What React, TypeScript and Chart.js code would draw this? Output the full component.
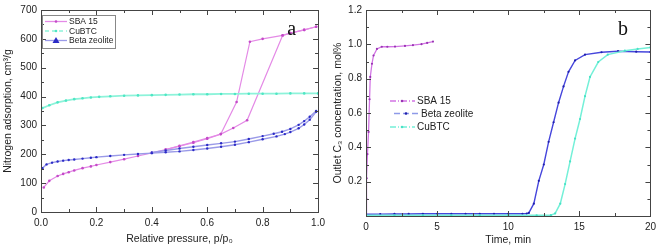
import React, { useEffect, useRef } from 'react';
import { Chart, registerables } from 'chart.js';
Chart.register(...registerables);

// ---------- Panel a: N2 adsorption isotherms ----------
const sbaAdsP = [0.01, 0.03, 0.06, 0.08, 0.10, 0.12, 0.15, 0.18, 0.20, 0.25, 0.30, 0.35, 0.40, 0.45, 0.50, 0.55, 0.60, 0.649, 0.694, 0.744, 0.872, 0.90, 0.95, 0.993];
const sbaAdsV = [85, 108, 125, 132, 138, 144, 152, 158, 163, 173, 183, 194, 205, 216, 228, 240, 254, 270, 291, 318, 612, 620, 631, 642];
const sbaDesP = [0.993, 0.95, 0.90, 0.872, 0.80, 0.754, 0.706, 0.649, 0.60, 0.55, 0.50, 0.45];
const sbaDesV = [642, 631, 620, 612, 600, 590, 381, 270, 256, 242, 229, 216];

const cuP = [0.005, 0.03, 0.06, 0.09, 0.12, 0.15, 0.18, 0.21, 0.25, 0.30, 0.35, 0.40, 0.45, 0.50, 0.55, 0.60, 0.65, 0.70, 0.75, 0.80, 0.85, 0.90, 0.95, 1.0];
const cuV = [360, 370, 380, 386, 391, 394, 397, 399, 401, 403, 404, 405, 406, 407, 408, 408, 409, 409, 410, 410, 410, 411, 411, 411];

const betaAdsP = [0.005, 0.02, 0.04, 0.06, 0.08, 0.10, 0.12, 0.15, 0.18, 0.20, 0.25, 0.30, 0.35, 0.40, 0.45, 0.50, 0.55, 0.60, 0.65, 0.70, 0.75, 0.80, 0.85, 0.88, 0.90, 0.93, 0.95, 0.97, 0.993];
const betaAdsV = [152, 165, 171, 175, 178, 180, 182, 185, 188, 190, 194, 198, 201, 204, 207, 210, 215, 220, 226, 233, 242, 252, 262, 270, 277, 290, 303, 320, 347];
const betaDesP = [0.993, 0.97, 0.95, 0.93, 0.90, 0.87, 0.84, 0.80, 0.75, 0.70, 0.65, 0.60, 0.55, 0.50, 0.45, 0.40];
const betaDesV = [350, 330, 315, 302, 288, 278, 271, 263, 253, 244, 238, 232, 226, 220, 213, 206];

// ---------- Panel b: breakthrough curves ----------
const sbaT = [0, 0.02, 0.05, 0.10, 0.18, 0.25, 0.30, 0.42, 0.53, 0.77, 1.11, 1.5, 2.04, 2.74, 3.3, 3.9, 4.3, 4.71];
const sbaC = [0, 0.10, 0.22, 0.36, 0.49, 0.68, 0.81, 0.887, 0.935, 0.973, 0.986, 0.986, 0.987, 0.991, 0.995, 1.001, 1.008, 1.016];

const betaT = [0, 1, 2, 3, 4, 5, 6, 7, 8, 9, 10, 11, 11.3, 11.45, 11.8, 12.15, 12.5, 12.84, 13.19, 13.54, 13.89, 14.24, 14.7, 15.4, 16.56, 17.72, 19, 20];
const betaC = [0.010, 0.011, 0.012, 0.012, 0.013, 0.013, 0.013, 0.013, 0.013, 0.013, 0.013, 0.013, 0.014, 0.018, 0.072, 0.205, 0.30, 0.432, 0.546, 0.66, 0.755, 0.84, 0.906, 0.94, 0.954, 0.96, 0.957, 0.955];

const cuT = [0, 2, 4, 6, 8, 10, 12, 13.0, 13.3, 13.66, 14.0, 14.35, 14.7, 15.05, 15.4, 15.75, 16.33, 17.0, 18.2, 19.1, 20];
const cuC = [0.004, 0.004, 0.004, 0.004, 0.004, 0.004, 0.004, 0.005, 0.015, 0.072, 0.186, 0.318, 0.451, 0.565, 0.698, 0.81, 0.897, 0.94, 0.963, 0.973, 0.982];

const xTicksA = [0, 0.2, 0.4, 0.6, 0.8, 1.0];
const yTicksA = [0, 100, 200, 300, 400, 500, 600, 700];
const xTicksB = [0, 5, 10, 15, 20];
const yTicksB = [0, 0.2, 0.4, 0.6, 0.8, 1.0, 1.2];

// ---------- styles ----------
const SBA_LINE = '#e48ae6';
const SBA_PT = '#c44ac8';
const CU_LINE = '#8df3da';
const CU_PT = '#4fe6c4';
const BETA_LINE = '#9a9ae8';
const BETA_PT = '#2b2bc6';
const SBA_LINE_B = '#d274e4';
const SBA_PT_B = '#9a34b4';
const BETA_LINE_B = '#4646dc';
const BETA_PT_B = '#1f1fae';
const CU_LINE_B = '#74f0d8';
const CU_PT_B = '#48e2c6';

const FONT = '"Liberation Sans", Arial, sans-serif';
const TXT = '#222';

const zip = (xs: number[], ys: number[]) => xs.map((x, i) => ({ x, y: ys[i] }));

function frame(xt: number[], yt: number[]) {
  return {
    id: 'frame',
    afterDraw(chart: any) {
      const { ctx, chartArea } = chart;
      const { left, right, top, bottom } = chartArea;
      const sx = chart.scales.x;
      const sy = chart.scales.y;
      ctx.save();
      ctx.strokeStyle = '#444';
      ctx.lineWidth = 1;
      ctx.strokeRect(Math.round(left) + 0.5, Math.round(top) + 0.5, Math.round(right - left), Math.round(bottom - top));
      const tick = (x1: number, y1: number, x2: number, y2: number) => {
        ctx.beginPath();
        ctx.moveTo(x1, y1);
        ctx.lineTo(x2, y2);
        ctx.stroke();
      };
      const drawX = (v: number, len: number) => {
        const px = Math.round(sx.getPixelForValue(v)) + 0.5;
        tick(px, bottom, px, bottom - len);
        tick(px, top, px, top + len);
      };
      const drawY = (v: number, len: number) => {
        const py = Math.round(sy.getPixelForValue(v)) + 0.5;
        tick(left, py, left + len, py);
        tick(right, py, right - len, py);
      };
      xt.forEach((v, i) => {
        drawX(v, 5);
        if (i < xt.length - 1) drawX((v + xt[i + 1]) / 2, 3);
      });
      yt.forEach((v, i) => {
        drawY(v, 5);
        if (i < yt.length - 1) drawY((v + yt[i + 1]) / 2, 3);
      });
      ctx.restore();
    },
  };
}

type LegendItem = {
  label: string;
  x1: number;
  x2: number;
  tx: number;
  y: number;
  line: string;
  pt: string;
  dash: number[];
  marker: 'dot' | 'tri';
  dots: number[];
};

function legend(items: LegendItem[], fontSize: number, box?: [number, number, number, number]) {
  return {
    id: 'customLegend',
    afterDraw(chart: any) {
      const ctx = chart.ctx;
      ctx.save();
      if (box) {
        ctx.strokeStyle = '#888';
        ctx.lineWidth = 1;
        ctx.strokeRect(box[0] + 0.5, box[1] + 0.5, box[2], box[3]);
      }
      items.forEach((it) => {
        ctx.strokeStyle = it.line;
        ctx.lineWidth = 1.3;
        ctx.setLineDash(it.dash);
        ctx.beginPath();
        ctx.moveTo(it.x1, it.y + 0.5);
        ctx.lineTo(it.x2, it.y + 0.5);
        ctx.stroke();
        ctx.setLineDash([]);
        ctx.fillStyle = it.pt;
        it.dots.forEach((dx) => {
          if (it.marker === 'tri') {
            ctx.beginPath();
            ctx.moveTo(dx, it.y - 3);
            ctx.lineTo(dx + 3.5, it.y + 3);
            ctx.lineTo(dx - 3.5, it.y + 3);
            ctx.closePath();
            ctx.fill();
          } else {
            ctx.beginPath();
            ctx.arc(dx, it.y + 0.5, 1.3, 0, Math.PI * 2);
            ctx.fill();
          }
        });
        ctx.fillStyle = TXT;
        ctx.font = `${fontSize}px ${FONT}`;
        ctx.textAlign = 'left';
        ctx.textBaseline = 'middle';
        ctx.fillText(it.label, it.tx, it.y + 1);
      });
      ctx.restore();
    },
  };
}

function letter(text: string, xv: number, yv: number) {
  return {
    id: 'letter',
    afterDraw(chart: any) {
      const ctx = chart.ctx;
      ctx.save();
      ctx.fillStyle = '#111';
      ctx.font = '20px "Liberation Serif", "DejaVu Serif", serif';
      ctx.textAlign = 'center';
      ctx.textBaseline = 'middle';
      ctx.fillText(text, chart.scales.x.getPixelForValue(xv), chart.scales.y.getPixelForValue(yv));
      ctx.restore();
    },
  };
}

function ds(data: any[], line: string, pt: string, r: number, w: number, extra: any = {}) {
  return {
    data,
    showLine: true,
    borderColor: line,
    borderWidth: w,
    backgroundColor: pt,
    pointBackgroundColor: pt,
    pointBorderWidth: 0,
    pointRadius: r,
    tension: 0,
    ...extra,
  };
}

function axis(min: number, max: number, step: number, fmt: (v: number) => string, title: string, isX: boolean, size: number, pad: number, titlePad: number) {
  return {
    type: 'linear',
    min,
    max,
    grid: { display: false, drawTicks: false },
    border: { display: false },
    ticks: {
      stepSize: step,
      autoSkip: false,
      maxRotation: 0,
      padding: pad,
      color: TXT,
      font: { size: 10, family: FONT },
      callback: (v: any) => fmt(Number(v)),
    },
    title: {
      display: true,
      text: title,
      color: TXT,
      font: { size: 10.5, family: FONT },
      padding: isX ? { top: 0, bottom: titlePad } : { top: titlePad, bottom: 0 },
    },
    afterFit(s: any) {
      if (isX) s.height = size;
      else s.width = size;
    },
  };
}

export default function App() {
  const refA = useRef<HTMLCanvasElement>(null);
  const refB = useRef<HTMLCanvasElement>(null);

  useEffect(() => {
    Chart.defaults.font.family = FONT;
    const chartA = new Chart(refA.current as HTMLCanvasElement, {
      type: 'scatter',
      data: {
        datasets: [
          ds(zip(cuP, cuV), CU_LINE, CU_PT, 1.3, 1.8),
          ds(zip(betaAdsP, betaAdsV), BETA_LINE, BETA_PT, 1.2, 1.4),
          ds(zip(betaDesP, betaDesV), BETA_LINE, BETA_PT, 1.2, 1.4),
          ds(zip(sbaAdsP, sbaAdsV), SBA_LINE, SBA_PT, 1.3, 1.2),
          ds(zip(sbaDesP, sbaDesV), SBA_LINE, SBA_PT, 1.3, 1.2),
        ] as any,
      },
      options: {
        animation: false,
        responsive: false,
        events: [],
        layout: { padding: { left: 0, right: 8, top: 5, bottom: 0 } },
        plugins: { legend: { display: false }, tooltip: { enabled: false } },
        scales: {
          x: axis(0, 1, 0.2, (v) => v.toFixed(1), 'Relative pressure, p/p₀', true, 36, 5, 3),
          y: axis(0, 700, 100, (v) => String(Math.round(v)), 'Nitrogen adsorption, cm³/g', false, 41, 4, 2),
        } as any,
      },
      plugins: [
        frame(xTicksA, yTicksA),
        legend(
          [
            { label: 'SBA 15', x1: 45, x2: 67, tx: 69, y: 21, line: SBA_LINE, pt: SBA_PT, dash: [], marker: 'dot', dots: [56] },
            { label: 'CuBTC', x1: 45, x2: 67, tx: 69, y: 30.5, line: CU_LINE, pt: CU_PT, dash: [4, 3], marker: 'dot', dots: [56] },
            { label: 'Beta zeolite', x1: 45, x2: 67, tx: 69, y: 40, line: BETA_LINE, pt: BETA_PT, dash: [], marker: 'tri', dots: [56] },
          ],
          8.5,
          [42, 15, 73, 33]
        ),
        letter('a', 0.905, 631),
      ] as any,
    });

    const chartB = new Chart(refB.current as HTMLCanvasElement, {
      type: 'scatter',
      data: {
        datasets: [
          ds(zip(cuT, cuC), CU_LINE_B, CU_PT_B, 1.1, 1.5),
          ds(zip(betaT, betaC), BETA_LINE_B, BETA_PT_B, 1.1, 1.4),
          ds(zip(sbaT, sbaC), SBA_LINE_B, SBA_PT_B, 1.1, 1.3),
        ] as any,
      },
      options: {
        animation: false,
        responsive: false,
        events: [],
        layout: { padding: { left: 0, right: 8, top: 5, bottom: 0 } },
        plugins: { legend: { display: false }, tooltip: { enabled: false } },
        scales: {
          x: axis(0, 20, 5, (v) => String(Math.round(v)), 'Time, min', true, 32, 5, 2),
          y: axis(0, 1.2, 0.2, (v) => (Math.abs(v) < 1e-9 ? '' : v.toFixed(1)), 'Outlet C₃ concentration, mol%', false, 36, 4, 2),
        } as any,
      },
      plugins: [
        frame(xTicksB, yTicksB),
        legend(
          [
            { label: 'SBA 15', x1: 60, x2: 85, tx: 87, y: 100.5, line: SBA_LINE_B, pt: SBA_PT_B, dash: [6, 2, 1, 2], marker: 'dot', dots: [72] },
            { label: 'Beta zeolite', x1: 64, x2: 88, tx: 91, y: 113, line: '#8e9ae8', pt: BETA_PT_B, dash: [6, 3], marker: 'dot', dots: [76] },
            { label: 'CuBTC', x1: 60, x2: 85, tx: 87, y: 126.5, line: CU_LINE_B, pt: CU_PT_B, dash: [6, 2, 1, 2], marker: 'dot', dots: [72] },
          ],
          10
        ),
        letter('b', 18.07, 1.086),
      ] as any,
    });

    return () => {
      chartA.destroy();
      chartB.destroy();
    };
  }, []);

  return (
    <div style={{ position: 'absolute', left: 0, top: 0, width: 661, height: 248, background: '#fff' }}>
      <canvas ref={refA} width={330} height={248} style={{ position: 'absolute', left: 0, top: 0, width: 330, height: 248 }} />
      <canvas ref={refB} width={331} height={248} style={{ position: 'absolute', left: 330, top: 0, width: 331, height: 248 }} />
    </div>
  );
}
